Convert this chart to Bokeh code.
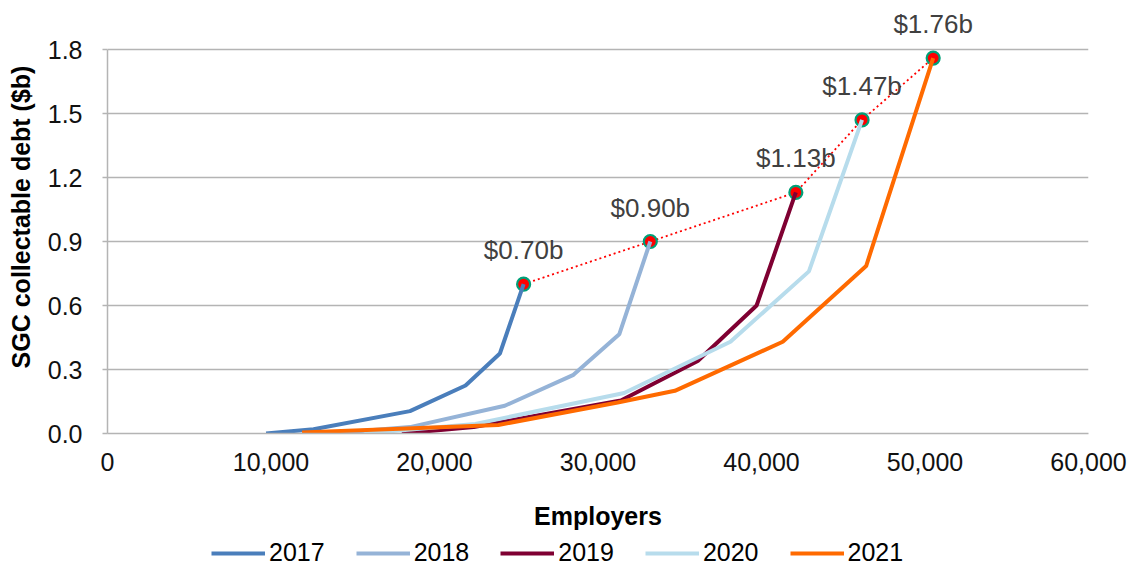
from bokeh.plotting import figure
from bokeh.models import Legend, LegendItem, ColumnDataSource, NumeralTickFormatter, FixedTicker, Range1d
from bokeh.layouts import column
from bokeh.embed import file_html
from bokeh.resources import INLINE
from bokeh.core.properties import value

years = ["2017", "2018", "2019", "2020", "2021"]
x_2017 = [9700, 12600, 18500, 21900, 24000, 25450]
y_2017 = [0.0, 0.02, 0.105, 0.225, 0.375, 0.70]
x_2018 = [13600, 18500, 24300, 28500, 31300, 33200]
y_2018 = [0.0, 0.03, 0.13, 0.275, 0.465, 0.90]
x_2019 = [18000, 22400, 31400, 36100, 39700, 42100]
y_2019 = [0.0, 0.03, 0.155, 0.34, 0.60, 1.13]
x_2020 = [15700, 22500, 31600, 38100, 42900, 46150]
y_2020 = [0.0, 0.045, 0.19, 0.43, 0.76, 1.47]
x_2021 = [11900, 23900, 31200, 34700, 41300, 46400, 50500]
y_2021 = [0.005, 0.04, 0.145, 0.20, 0.43, 0.785, 1.76]
end_labels = ["$0.70b", "$0.90b", "$1.13b", "$1.47b", "$1.76b"]
colors = ["#4a7ebb", "#95b3d7", "#7f0032", "#b7dcec", "#ff6a00"]
x_ticks = [0, 10000, 20000, 30000, 40000, 50000, 60000]
y_ticks = [0, 0.3, 0.6, 0.9, 1.2, 1.5, 1.8]

xs = [x_2017, x_2018, x_2019, x_2020, x_2021]
ys = [y_2017, y_2018, y_2019, y_2020, y_2021]

FONT = "Liberation Sans"
W = 1132
PLOT_H = 533
LEG_H = 34
FRAME_TOP = 49        # pixels of headroom above the 1.8 gridline
FRAME_PX = 384        # pixel height of the 0..1.8 band
y_top = y_ticks[-1] + FRAME_TOP * (y_ticks[-1] - y_ticks[0]) / FRAME_PX

p = figure(width=W, height=PLOT_H, output_backend="svg", toolbar_location=None,
           x_range=Range1d(x_ticks[0], x_ticks[-1]), y_range=Range1d(y_ticks[0], y_top),
           min_border_left=107, min_border_right=44, min_border_top=0, min_border_bottom=100)
p.outline_line_color = None
p.background_fill_color = "white"
p.border_fill_color = "white"

p.xgrid.grid_line_color = None
p.ygrid.grid_line_color = "#b4b4b4"
p.ygrid.grid_line_width = 1.5

p.xaxis.ticker = FixedTicker(ticks=x_ticks)
p.yaxis.ticker = FixedTicker(ticks=y_ticks)
p.xaxis.formatter = NumeralTickFormatter(format="0,0")
p.yaxis.formatter = NumeralTickFormatter(format="0.0")
p.yaxis.bounds = (y_ticks[0], y_ticks[-1])

for ax in (p.xaxis[0], p.yaxis[0]):
    ax.axis_line_color = "#b4b4b4"
    ax.axis_line_width = 1.5
    ax.major_tick_line_color = "#b4b4b4"
    ax.major_tick_line_width = 1.5
    ax.minor_tick_line_color = None
    ax.major_tick_in = 0
    ax.major_label_text_font = FONT
    ax.major_label_text_font_size = "25px"
    ax.major_label_text_color = "#111111"
    ax.axis_label_text_font = FONT
    ax.axis_label_text_font_size = "25px"
    ax.axis_label_text_font_style = "bold"
    ax.axis_label_text_color = "black"

p.xaxis.major_tick_out = 0
p.xaxis.major_label_standoff = 19
p.xaxis.axis_label = "Employers"
p.xaxis.axis_label_standoff = 28
p.yaxis.major_tick_out = 5
p.yaxis.major_label_standoff = 20
p.yaxis.axis_label = "SGC collectable debt ($b)"
p.yaxis.axis_label_standoff = 10

end_x = [s[-1] for s in xs]
end_y = [s[-1] for s in ys]
src_end = ColumnDataSource(dict(x=end_x, y=end_y, t=end_labels))

p.line("x", "y", source=src_end, line_color="red", line_width=1.8, line_dash="2 3")
p.scatter("x", "y", source=src_end, size=13, fill_color="red", line_color="#00a078", line_width=2.2)

for x, y, c in zip(xs, ys, colors):
    p.line(x, y, line_color=c, line_width=4)

p.text("x", "y", text="t", source=src_end, text_font=value(FONT), text_font_size="26px",
       text_color="#404040", text_align="center", text_baseline="middle", y_offset=-34)

# legend strip below the chart
lg = figure(width=W, height=LEG_H, output_backend="svg", toolbar_location=None,
            x_range=Range1d(0, 1), y_range=Range1d(0, 1),
            x_axis_type=None, y_axis_type=None,
            min_border_left=0, min_border_right=0, min_border_top=0, min_border_bottom=0)
lg.outline_line_color = None
lg.xgrid.grid_line_color = None
lg.ygrid.grid_line_color = None
items = []
for yr, x, y, c in zip(years, xs, ys, colors):
    r = lg.line(x, y, line_color=c, line_width=4)
    items.append(LegendItem(label=yr, renderers=[r]))

legend = Legend(items=items, orientation="horizontal", location=(104, 0),
                label_text_font=FONT, label_text_font_size="25px", label_text_color="black",
                glyph_width=54, glyph_height=20, label_standoff=4, spacing=31,
                border_line_color=None, background_fill_alpha=0, padding=0, margin=0)
lg.add_layout(legend, "center")

layout = column(p, lg, spacing=0)
open("out.html", "w").write(file_html(layout, INLINE))
